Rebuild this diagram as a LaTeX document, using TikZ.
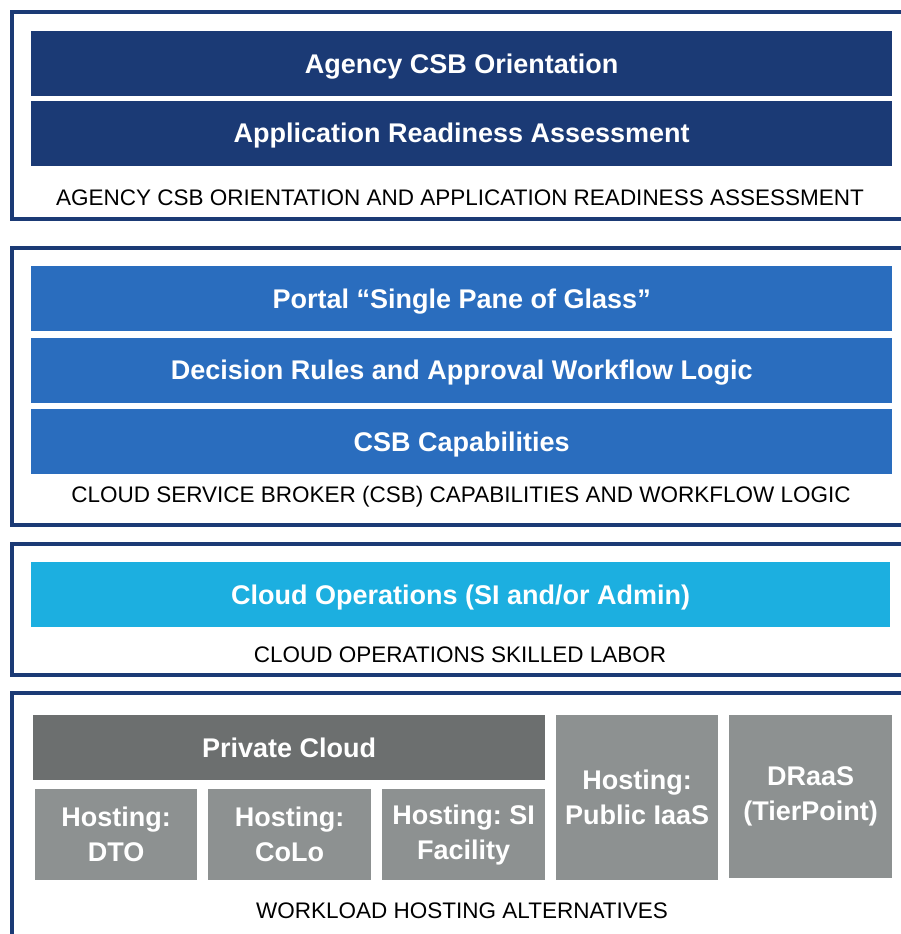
\documentclass[tikz,border=0pt]{standalone}
\usepackage{fontspec}
\setmainfont{Liberation Sans}
\usetikzlibrary{positioning}

\definecolor{navy}{HTML}{1B3A75}
\definecolor{csbblue}{HTML}{2A6DBE}
\definecolor{opscyan}{HTML}{1CAFE0}
\definecolor{darkgrey}{HTML}{6C6F6F}
\definecolor{lightgrey}{HTML}{8D9191}

\tikzset{
  frame/.style={draw=navy, line width=4.5pt},
  bar/.style={fill=#1, text=white, font=\bfseries\fontsize{27}{35}\selectfont,
    inner sep=0pt, anchor=north west, align=center},
  widebar/.style={bar=#1, minimum width=861pt, minimum height=65pt, text depth=0pt},
  layername/.style={font=\fontsize{22.5}{26}\selectfont, inner sep=0pt}
}

\begin{document}
\begin{tikzpicture}[x=1pt, y=-1pt]

            \useasboundingbox (0,0) rectangle (900,934);

            \draw[frame] (910,12) -- (12,12) -- (12,219) -- (910,219);
            \draw[frame] (910,248) -- (12,248) -- (12,525) -- (910,525);
            \draw[frame] (910,544) -- (12,544) -- (12,675) -- (910,675);
            \draw[frame] (910,693) -- (12,693) -- (12,945);

            \node[widebar=navy] (orient) at (31,31) {Agency CSB Orientation};
            \node[widebar=navy, below=4pt of orient.south west, anchor=north west] (readiness) {Application Readiness Assessment};
            \node[layername] (orientlbl) at (460,198) {AGENCY CSB ORIENTATION AND APPLICATION READINESS ASSESSMENT};

            \node[widebar=csbblue] (portal) at (31,266) {Portal “Single Pane of Glass”};
            \node[widebar=csbblue, below=6pt of portal.south west, anchor=north west] (rules) {Decision Rules and Approval Workflow Logic};
            \node[widebar=csbblue, below=6pt of rules.south west, anchor=north west] (capab) {CSB Capabilities};
            \node[layername] (csblbl) at (461,497) {CLOUD SERVICE BROKER (CSB) CAPABILITIES AND WORKFLOW LOGIC};

            \node[widebar=opscyan, minimum width=859pt] (cloudops) at (31,562) {Cloud Operations (SI and/or Admin)};
            \node[layername] (opslbl) at (460,655) {CLOUD OPERATIONS SKILLED LABOR};

            \node[bar=darkgrey, minimum width=512pt, minimum height=65pt] (private) at (33,715) {Private Cloud};
            \node[bar=lightgrey, minimum width=162pt, minimum height=91pt] (dto) at (35,789) {Hosting:\\DTO};
            \node[bar=lightgrey, minimum width=163pt, minimum height=91pt] (colo) at (208,789) {Hosting:\\CoLo};
            \node[bar=lightgrey, minimum width=163pt, minimum height=91pt] (sifac) at (382,789) {Hosting:\ SI\\Facility};
            \node[bar=lightgrey, minimum width=162pt, minimum height=165pt] (iaas) at (556,715) {Hosting:\\Public IaaS};
            \node[bar=lightgrey, minimum width=163pt, minimum height=163pt] (draas) at (729,715) {DRaaS\\(TierPoint)};
            \node[layername] (hostlbl) at (462,911) {WORKLOAD HOSTING ALTERNATIVES};

\end{tikzpicture}
\end{document}
